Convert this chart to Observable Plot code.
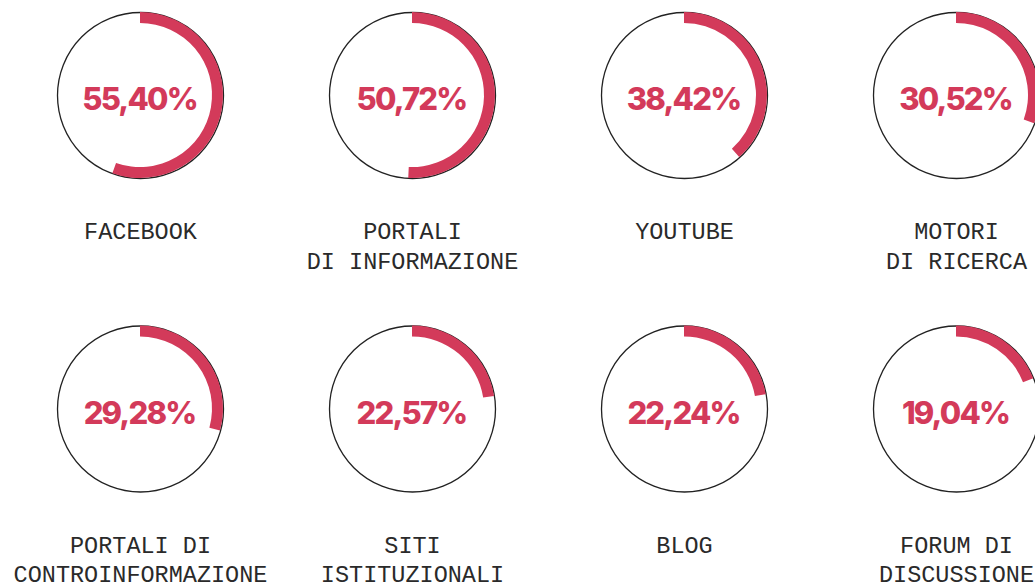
<!DOCTYPE html>
<html>
<head>
<meta charset="utf-8">
<script src="https://cdn.jsdelivr.net/npm/d3@7"></script>
<script src="https://cdn.jsdelivr.net/npm/@observablehq/plot@0.6"></script>
<style>
  html, body { margin: 0; padding: 0; background: #fff; }
  #chart svg { display: block; }
  #chart svg g[fill="#d33a5a"] text { letter-spacing: -1.8px; }
</style>
</head>
<body>
<div id="chart"></div>
<script>
const labels = [
  "FACEBOOK",
  "PORTALI\nDI INFORMAZIONE",
  "YOUTUBE",
  "MOTORI\nDI RICERCA",
  "PORTALI DI\nCONTROINFORMAZIONE",
  "SITI\nISTITUZIONALI",
  "BLOG",
  "FORUM DI\nDISCUSSIONE"
];
const values = [55.40, 50.72, 38.42, 30.52, 29.28, 22.57, 22.24, 19.04];
const valueLabels = ["55,40%", "50,72%", "38,42%", "30,52%", "29,28%", "22,57%", "22,24%", "19,04%"];

const columns = 4;
const RED = "#d33a5a";

const data = labels.map((label, i) => ({
  label,
  value: values[i],
  text: valueLabels[i],
  col: i % columns,
  row: Math.floor(i / columns)
}));

const arcMark = (index, scales) => {
  const arc = d3.arc().innerRadius(72).outerRadius(83);
  const g = d3.create("svg:g");
  g.selectAll("path")
    .data(data)
    .join("path")
    .attr("transform", d => `translate(${scales.x(d.col)},${scales.y(d.row)})`)
    .attr("d", d => arc({startAngle: 0, endAngle: d.value / 100 * 2 * Math.PI}))
    .attr("fill", RED);
  return g.node();
};

const chart = Plot.plot({
  width: 1035,
  height: 585,
  margin: 0,
  x: {type: "linear", domain: [0, 3], range: [140, 956], axis: null},
  y: {type: "linear", domain: [0, 1], range: [95, 408.5], axis: null},
  marks: [
    Plot.dot(data, {x: "col", y: "row", r: 83, stroke: "#222", strokeWidth: 1.3, fill: "none"}),
    arcMark,
    Plot.text(data, {
      x: "col", y: "row", text: "text",
      fill: RED, fontSize: 31, fontWeight: 800,
      fontFamily: "Inter, 'Noto Sans', sans-serif",
      dy: 5, dx: -1, textAnchor: "middle", lineAnchor: "middle"
    }),
    Plot.text(data, {
      x: "col", y: "row", text: "label",
      fill: "#2a2a2a", fontSize: 23.5,
      fontFamily: "'Liberation Mono', 'DejaVu Sans Mono', monospace",
      lineAnchor: "top", lineHeight: 1.26, dy: 122.5,
      textAnchor: "middle"
    })
  ]
});
document.getElementById("chart").appendChild(chart);
</script>
</body>
</html>
